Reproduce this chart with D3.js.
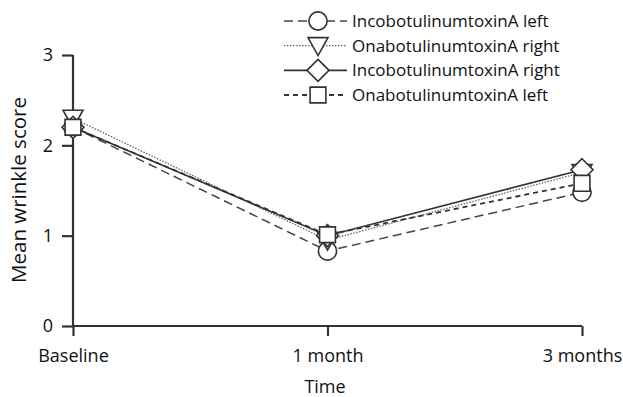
<!DOCTYPE html>
<html>
<head>
<meta charset="utf-8">
<script src="https://cdn.jsdelivr.net/npm/d3@7"></script>
<style>
body { margin: 0; background: #fff; }
text { font-family: "Open Sans", sans-serif; fill: #111; }
</style>
</head>
<body>
<script>
var categories = ["Baseline", "1 month", "3 months"]
var seriesNames = ["IncobotulinumtoxinA left", "OnabotulinumtoxinA right", "IncobotulinumtoxinA right", "OnabotulinumtoxinA left"]
var incoLeft = [2.2, 0.83, 1.48]
var onaRight = [2.3, 0.95, 1.7]
var incoRight = [2.2, 1.0, 1.73]
var onaLeft = [2.2, 1.01, 1.58]
var yTicks = [0, 1, 2, 3]

var width = 623
var height = 397

var svg = d3.select("body")
            .append("svg")
            .attr("width", width)
            .attr("height", height)

var xScale = d3.scalePoint()
                .domain(categories)
                .range([73, 582])

var yScale = d3.scaleLinear()
                .domain([0, 3])
                .range([326, 55])

var xAxis = d3.axisBottom(xScale).tickSize(10).tickPadding(13)
var yAxis = d3.axisLeft(yScale).tickValues(yTicks).tickFormat(d3.format("d")).tickSize(11).tickPadding(9)

svg.append("g")
    .attr("transform", "translate(0,326)")
    .call(xAxis)
    .call(function(g){
      g.select(".domain").attr("d", "M73,0H582")
      g.selectAll(".tick text").style("font-size", "18px")
    })

svg.append("g")
    .attr("transform", "translate(73,0)")
    .call(yAxis)
    .call(function(g){
      g.select(".domain").attr("d", "M0,55V326")
      g.selectAll(".tick text").style("font-size", "18px")
    })

svg.selectAll(".domain, .tick line")
    .attr("stroke", "#333")
    .attr("stroke-width", 2.2)

svg.append("text")
    .attr("x", 325).attr("y", 393)
    .attr("text-anchor", "middle")
    .style("font-size", "18px")
    .text("Time")

svg.append("text")
    .attr("transform", "translate(26,190) rotate(-90)")
    .attr("text-anchor", "middle")
    .style("font-size", "20.5px")
    .text("Mean wrinkle score")

var series = [
  {name: seriesNames[0], values: incoLeft, dash: "9,5", width: 1.5, color: "#444", shape: "circle"},
  {name: seriesNames[1], values: onaRight, dash: "1.5,1.5", width: 1.3, color: "#666", shape: "triangle"},
  {name: seriesNames[2], values: incoRight, dash: null, width: 1.6, color: "#333", shape: "diamond"},
  {name: seriesNames[3], values: onaLeft, dash: "5,4", width: 1.8, color: "#333", shape: "square"}
]

var symbolFor = function(shape){
  if (shape == "circle") return d3.symbol().type(d3.symbolCircle).size(260)()
  if (shape == "square") return d3.symbol().type(d3.symbolSquare).size(250)()
  if (shape == "diamond") return "M0,-11L11,0L0,11L-11,0Z"
  return "M-10,-8L10,-8L0,10Z"
}

var line = d3.line()
              .x(function(d, i){ return xScale(categories[i]) })
              .y(function(d){ return yScale(d) })

series.forEach(function(s){
  svg.append("path")
      .attr("d", line(s.values))
      .attr("fill", "none")
      .attr("stroke", s.color)
      .attr("stroke-width", s.width)
      .attr("stroke-dasharray", s.dash)
})

series.forEach(function(s){
  svg.selectAll(null)
      .data(s.values)
      .enter()
      .append("path")
      .attr("d", symbolFor(s.shape))
      .attr("transform", function(d, i){
        return "translate(" + xScale(categories[i]) + "," + yScale(d) + ")"
      })
      .attr("fill", "#fff")
      .attr("stroke", "#333")
      .attr("stroke-width", 1.6)
})

// legend
var legend = svg.append("g")
var rowY = d3.scalePoint().domain(seriesNames).range([21, 95])

series.forEach(function(s){
  var y = rowY(s.name)
  legend.append("line")
      .attr("x1", 284).attr("x2", 347)
      .attr("y1", y).attr("y2", y)
      .attr("stroke", s.color)
      .attr("stroke-width", s.width)
      .attr("stroke-dasharray", s.dash)
  legend.append("path")
      .attr("d", symbolFor(s.shape))
      .attr("transform", "translate(318," + y + ")")
      .attr("fill", "#fff")
      .attr("stroke", "#333")
      .attr("stroke-width", 1.6)
  legend.append("text")
      .attr("x", 352).attr("y", y)
      .attr("dy", "0.35em")
      .style("font-size", "17px")
      .text(s.name)
})
</script>
</body>
</html>
